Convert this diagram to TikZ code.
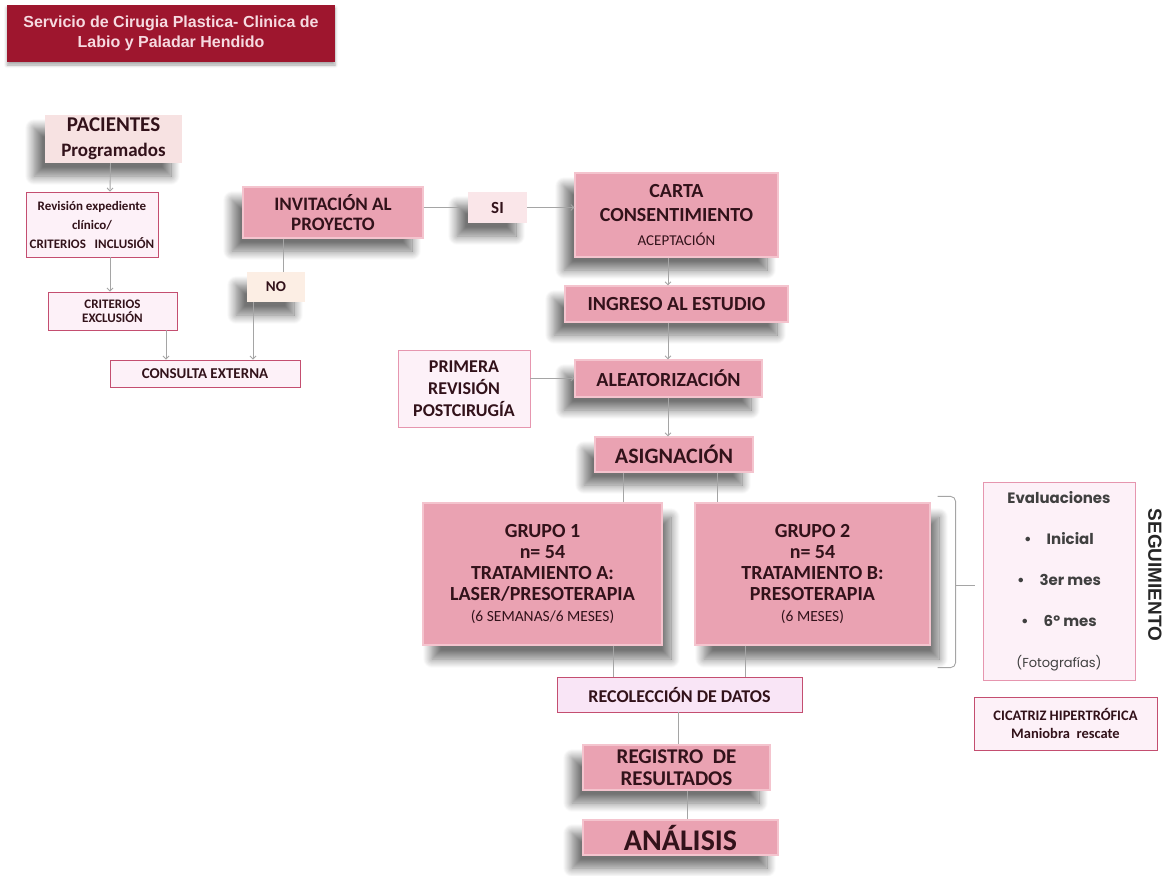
\documentclass[tikz,border=0pt]{standalone}
\usepackage{fontspec}
\setmainfont{Carlito}
\newfontfamily\titlefont{Liberation Sans}
\newfontfamily\evalfont{Poppins}
\usetikzlibrary{arrows.meta, shadows.blur}
\newcommand{\fsz}[2]{\fontsize{#1}{#2}\selectfont}

\definecolor{titlered}{RGB}{158,22,46}
\definecolor{titletext}{RGB}{246,218,224}
\definecolor{rosebox}{RGB}{234,162,178}
\definecolor{roseedge}{RGB}{244,196,206}
\definecolor{palefill}{RGB}{253,241,248}
\definecolor{paleedge}{RGB}{196,78,112}
\definecolor{evaledge}{RGB}{230,150,175}
\definecolor{lilacfill}{RGB}{249,229,246}
\definecolor{pacfill}{RGB}{247,226,226}
\definecolor{nofill}{RGB}{252,238,228}
\definecolor{sifill}{RGB}{250,230,233}
\definecolor{inktext}{RGB}{50,18,26}
\definecolor{linkgray}{RGB}{165,165,165}

\begin{document}
\begin{tikzpicture}[
        x=1pt, y=-1pt,
        every node/.style={inner sep=0pt, text=inktext, align=center},
        shade left/.style={blur shadow={shadow xshift=-11pt, shadow yshift=-13pt, shadow blur radius=9pt, shadow blur steps=14, shadow opacity=55}},
        shade right/.style={blur shadow={shadow xshift=9pt, shadow yshift=-14pt, shadow blur radius=9pt, shadow blur steps=14, shadow opacity=55}},
        block/.style={rectangle, fill=rosebox, draw=roseedge, line width=1.2pt, font=\bfseries},
        note/.style={rectangle, fill=palefill, draw=paleedge, line width=0.8pt, font=\bfseries},
        link/.style={draw=linkgray, line width=0.9pt},
        arrow/.style={link, -{Straight Barb[length=3pt, width=6pt]}}
    ]
        \useasboundingbox (0,0) rectangle (1168,876);

        % Nodes
        \node[fill=titlered, minimum width=328pt, minimum height=57pt, text=titletext,
              font=\titlefont\bfseries\fsz{16}{20},
              blur shadow={shadow xshift=0pt, shadow yshift=-3pt, shadow blur radius=3pt, shadow opacity=35}]
              (title) at (171,33.5) {Servicio de Cirugia Plastica- Clinica de\\Labio y Paladar Hendido};

        \node[fill=pacfill, minimum width=137pt, minimum height=48pt, shade left, font=\bfseries\fsz{21}{25}] (pac) at (113.5,139)
              {PACIENTES\\\fsz{19}{25}Programados};
        \node[note, minimum width=132pt, minimum height=65pt, font=\bfseries\fsz{13}{19}] (rev) at (92,224.5)
              {Revisión expediente\\clínico/\\CRITERIOS\ \ \ INCLUSIÓN};
        \node[note, minimum width=129pt, minimum height=38pt, font=\bfseries\fsz{13}{14}] (exc) at (112.5,311)
              {CRITERIOS\\EXCLUSIÓN};
        \node[note, minimum width=190pt, minimum height=27pt, font=\bfseries\fsz{15}{16}] (cons) at (205,373.5)
              {CONSULTA EXTERNA};

        \node[block, minimum width=180pt, minimum height=51pt, shade left, font=\bfseries\fsz{19}{20}] (inv) at (333,212.5)
              {INVITACIÓN AL\\PROYECTO};
        \node[fill=nofill, minimum width=58pt, minimum height=30pt, shade left, font=\bfseries\fsz{15}{16}] (no) at (276,287) {NO};
        \node[fill=sifill, minimum width=59pt, minimum height=31pt, shade left, font=\bfseries\fsz{17}{18}] (si) at (497.5,207.5) {SI};

        \node[block, minimum width=203pt, minimum height=84pt, shade left, font=\bfseries\fsz{20}{24}] (carta) at (676.5,215)
              {CARTA\\CONSENTIMIENTO\\\fsz{15}{21}\mdseries ACEPTACIÓN};
        \node[block, minimum width=223pt, minimum height=36pt, shade left, font=\bfseries\fsz{20}{22}] (ingreso) at (676.5,304)
              {INGRESO AL ESTUDIO};
        \node[block, minimum width=187pt, minimum height=37pt, shade left, font=\bfseries\fsz{20}{22}] (alea) at (668.5,378.5)
              {ALEATORIZACIÓN};
        \node[note, draw=evaledge, minimum width=132pt, minimum height=77pt, font=\bfseries\fsz{18}{22}] (prim) at (464,388.5)
              {PRIMERA\\REVISIÓN\\POSTCIRUGÍA};
        \node[block, minimum width=158pt, minimum height=35pt, shade left, font=\bfseries\fsz{22}{24}] (asig) at (674,454.5)
              {ASIGNACIÓN};

        \node[block, minimum width=239pt, minimum height=142pt, shade right, font=\bfseries\fsz{20}{21}] (g1) at (542.5,574)
              {GRUPO 1\\n= 54\\TRATAMIENTO A:\\LASER/PRESOTERAPIA\\\fsz{15.5}{20}\mdseries (6 SEMANAS/6 MESES)};
        \node[block, minimum width=235pt, minimum height=142pt, shade right, font=\bfseries\fsz{20}{21}] (g2) at (812.5,574)
              {GRUPO 2\\n= 54\\TRATAMIENTO B:\\PRESOTERAPIA\\\fsz{15.5}{20}\mdseries (6 MESES)};

        \node[note, fill=lilacfill, minimum width=245pt, minimum height=35pt, font=\bfseries\fsz{18}{20}] (rec) at (679.5,694.5)
              {RECOLECCIÓN DE DATOS};
        \node[block, minimum width=187pt, minimum height=45pt, shade left, font=\bfseries\fsz{21}{22}] (reg) at (676.5,767.5)
              {REGISTRO\ \ DE\\RESULTADOS};
        \node[block, minimum width=195pt, minimum height=35pt, shade left, font=\bfseries\fsz{30}{32}] (ana) at (680.5,837.5)
              {ANÁLISIS};

        \node[note, draw=evaledge, minimum width=152pt, minimum height=198pt, text=black!75,
              font=\evalfont\bfseries\fsz{15}{41}] (eval) at (1059,581)
              {Evaluaciones\\•\quad Inicial\\•\quad 3er mes\\•\quad 6º mes\\\mdseries\fsz{13}{38}(Fotografías)};
        \node[note, minimum width=183pt, minimum height=53pt, font=\bfseries\fsz{14.5}{18}] (cic) at (1065.5,723.5)
              {CICATRIZ HIPERTRÓFICA\\Maniobra\ \ rescate};
        \node[rotate=-90, text=black!85, font=\titlefont\bfseries\fsz{19}{20}] (seg) at (1155,575) {SEGUIMIENTO};

        % Paths
        \draw[arrow] ([xshift=-3pt]pac.south) -- ([xshift=18pt]rev.north);
        \draw[arrow] ([xshift=18pt]rev.south) -- ([xshift=-2.5pt]exc.north);
        \draw[arrow] ([xshift=53.5pt]exc.south) -- ([xshift=-39pt]cons.north);
        \draw[link] ([xshift=-50pt]inv.south) -- ([xshift=7pt]no.north);
        \draw[arrow] ([xshift=-23pt]no.south) -- ([xshift=48pt]cons.north);
        \draw[link] ([yshift=5pt]inv.east) -- (si.west);
        \draw[arrow] (si.east) -- ([yshift=7.5pt]carta.west);
        \draw[arrow] ([xshift=-8.5pt]carta.south) -- ([xshift=-8.5pt]ingreso.north);
        \draw[arrow] ([xshift=-8.5pt]ingreso.south) -- ([xshift=-0.5pt]alea.north);
        \draw[arrow] ([yshift=10.5pt]prim.east) -- ([yshift=0.5pt]alea.west);
        \draw[arrow] ([xshift=-0.5pt]alea.south) -- ([xshift=-6pt]asig.north);
        \draw[link] ([xshift=-51pt]asig.south) -- ([xshift=80.5pt]g1.north);
        \draw[link] ([xshift=43pt]asig.south) -- ([xshift=-95.5pt]g2.north);
        \draw[link] ([xshift=70.5pt]g1.south) -- ([xshift=-66.5pt]rec.north);
        \draw[link] ([xshift=-67.5pt]g2.south) -- ([xshift=65.5pt]rec.north);
        \draw[link] ([xshift=-1.5pt]rec.south) -- ([xshift=1.5pt]reg.north);
        \draw[link] ([xshift=10.5pt]reg.south) -- ([xshift=6.5pt]ana.north);
        \draw[link, rounded corners=5pt] ([shift={(7,-6)}]g2.north east) -- ++(18,0)
              -- ([shift={(25,22)}]g2.south east) -- ++(-18,0);
        \draw[link, shorten >=8pt] ([shift={(25,11)}]g2.east) -- ([yshift=-4pt]eval.west);
    \end{tikzpicture}
\end{document}
